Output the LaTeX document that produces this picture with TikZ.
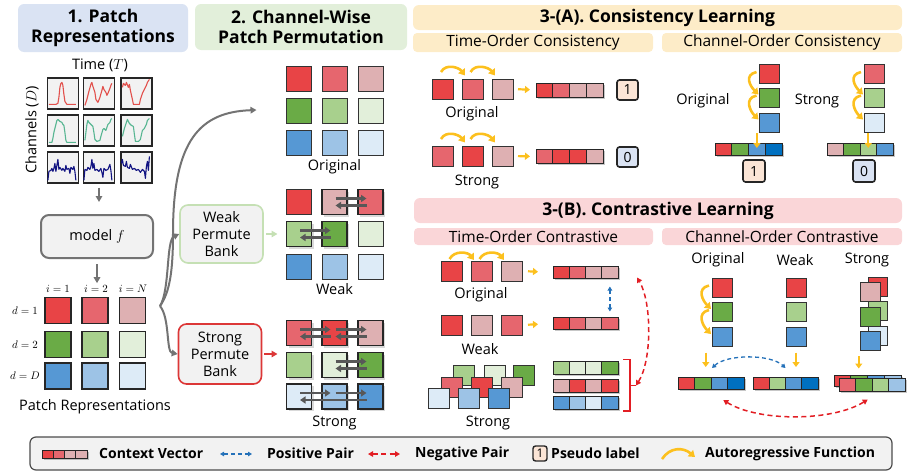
\documentclass[tikz,border=0pt]{standalone}
\usepackage{fontspec}
\setmainfont{Open Sans}
\usepackage{tikz}
\usetikzlibrary{arrows.meta,calc,shadows,positioning}

% patch colours
\definecolor{rA}{RGB}{232,68,70}
\definecolor{rB}{RGB}{230,102,110}
\definecolor{rC}{RGB}{222,176,178}
\definecolor{gA}{RGB}{106,171,70}
\definecolor{gB}{RGB}{168,208,141}
\definecolor{gC}{RGB}{226,239,218}
\definecolor{bA}{RGB}{86,152,212}
\definecolor{bB}{RGB}{157,195,230}
\definecolor{bC}{RGB}{221,235,247}
\definecolor{bD}{RGB}{0,112,192}
% panels and arrows
\definecolor{hdBlue}{RGB}{218,227,243}
\definecolor{hdGreen}{RGB}{226,239,218}
\definecolor{hdYellow}{RGB}{253,236,200}
\definecolor{hdPink}{RGB}{250,214,216}
\definecolor{arYellow}{RGB}{252,192,30}
\definecolor{arGray}{RGB}{115,115,115}
\definecolor{swGray}{RGB}{88,88,88}
\definecolor{posBlue}{RGB}{36,113,185}
\definecolor{negRed}{RGB}{226,30,36}
\definecolor{boxGray}{RGB}{242,242,242}
\definecolor{bankGreen}{RGB}{197,224,180}
\definecolor{bankRed}{RGB}{220,55,55}
\definecolor{lblOne}{RGB}{251,229,214}
\definecolor{lblZero}{RGB}{218,227,243}
\definecolor{tsRed}{RGB}{226,80,76}
\definecolor{tsGreen}{RGB}{88,182,146}
\definecolor{tsBlue}{RGB}{18,20,130}

% context vector: name, left x, centre y, cell width, cell height, colours
\newcommand{\ctxvec}[6]{%
  \fill[black,opacity=0.22] ({#2+1.6},{#3-#5/2+1.6}) rectangle ++({4*#4},#5);
  \foreach \cl [count=\k] in {#6}
    \node[cell,minimum width=#4pt,minimum height=#5pt,fill=\cl]
      (#1-\k) at ({#2+(\k-0.5)*#4},#3) {};
}
% series drawn in a box, local coordinates from its top left corner
\newcommand{\tsline}[3]{%
  \draw[#2,line width=1.1pt,line join=round,shift={(#1.north west)}]
    plot coordinates {#3};
}
% two opposite swap arrows between patches
\newcommand{\swappair}[2]{%
  \draw[swap] ($(#1.center)+(1,-3.5)$) -- ($(#2.center)+(-4,-3.5)$);
  \draw[swap] ($(#2.center)+(-4,3.5)$) -- ($(#1.center)+(1,3.5)$);
}
% autoregressive step over the top of two patches
\newcommand{\arcstep}[3]{%
  \draw[autoreg] ($(#1.north)+(-2,-#3)$) .. controls +(5,-9) and +(-6,-8)
    .. ($(#2.north west)+(3,{-#3/2})$);
}
% autoregressive step down the left side of a column
\newcommand{\chstep}[2]{%
  \draw[autoreg] ($(#1.west)+(-3,-2)$) .. controls +(-13,3) and +(-8,-8)
    .. ($(#2.west)+(-1,-3)$);
}

\begin{document}
\begin{tikzpicture}[x=1pt,y=-1pt,
  header/.style={rectangle,rounded corners=6pt,inner sep=0pt,align=center,
    font=\fontsize{17.5}{20}\selectfont\bfseries},
  subhead/.style={rectangle,rounded corners=4pt,inner sep=0pt,
    font=\fontsize{15.5}{17}\selectfont},
  lbl/.style={font=\fontsize{14.5}{16}\selectfont,inner sep=1pt},
  idx/.style={font=\fontsize{10.5}{12}\selectfont,inner sep=1pt},
  leg/.style={font=\fontsize{14}{16}\selectfont\bfseries,anchor=west,inner sep=0pt},
  tsbox/.style={rectangle,draw=black!85,line width=1.2pt,fill=boxGray,
    minimum size=31pt,inner sep=0pt},
  patch/.style={rectangle,draw=black!80,line width=0.6pt,inner sep=0pt,
    outer sep=0pt,minimum width=25pt,minimum height=25pt},
  repp/.style={line width=1.7pt,draw=black!85,minimum width=26pt,minimum height=26pt},
  moved/.style={line width=1.7pt,draw=black!85,
    drop shadow={shadow xshift=2pt,shadow yshift=-2pt,opacity=0.3}},
  sq/.style={patch,minimum width=21pt,minimum height=20pt},
  cell/.style={rectangle,draw=black!85,line width=0.8pt,inner sep=0pt,outer sep=0pt},
  modelbox/.style={rectangle,rounded corners=8pt,draw=black!55,line width=2pt,
    fill=boxGray,minimum width=112pt,minimum height=43pt,
    font=\fontsize{14.5}{16}\selectfont},
  bank/.style={rectangle,rounded corners=8pt,line width=1.6pt,fill=boxGray,
    minimum width=83pt,minimum height=58pt,align=center,inner sep=0pt,
    font=\fontsize{14.5}{17}\selectfont},
  plabel/.style={rectangle,draw=black!85,line width=1.6pt,rounded corners=2.5pt,
    minimum width=21pt,minimum height=20pt,inner sep=0pt,
    font=\fontsize{14}{14}\selectfont},
  flow/.style={draw=arGray,line width=2pt,-{Triangle[length=6pt,width=6.5pt]}},
  swap/.style={draw=swGray,line width=2.2pt,-{Triangle[length=5.5pt,width=7pt]}},
  autoreg/.style={draw=arYellow,line width=2.6pt,-{Triangle[length=6pt,width=8pt]}},
  feed/.style={draw=arYellow,line width=2.2pt,-{Triangle[length=5pt,width=7pt]}},
  pospair/.style={draw=posBlue,line width=1.3pt,dash pattern=on 4pt off 3pt,
    {Triangle[length=4pt,width=4.5pt]}-{Triangle[length=4pt,width=4.5pt]}},
  negpair/.style={draw=negRed,line width=1.5pt,dash pattern=on 5pt off 3.5pt,
    {Triangle[length=5pt,width=5.5pt]}-{Triangle[length=5pt,width=5.5pt]}}
]
  \useasboundingbox (0,0) rectangle (912,474);

  % ---------------- 1. Patch representations ----------------
  \node[header,fill=hdBlue,minimum width=170pt,minimum height=48pt] (hd1)
    at (103,28) {1. Patch\\Representations};
  \node[lbl] (timelab) at (100,65) {Time ($T$)};
  \node[lbl,rotate=90] (chanlab) at (32,130) {Channels ($D$)};
  \foreach \r/\y in {1/93.5,2/130.5,3/167.5}
    \foreach \cc/\x in {1/63,2/99,3/136.5}
      \node[tsbox] (ts-\r\cc) at (\x,\y) {};
  \tsline{ts-11}{tsRed}{(2,27) (9,27) (11,26) (12,20) (13,10) (14,6) (15,5)
    (16,8) (17,17) (18,24) (20,27) (29,27)}
  \tsline{ts-12}{tsRed}{(2,28) (4,22) (6,14) (8,7) (9,5) (10,9) (12,15)
    (13,22) (15,25) (17,20) (19,13) (20,9) (21,12) (23,15) (24,18) (25,16)
    (27,11) (28,8) (29,6)}
  \tsline{ts-13}{tsRed}{(2,10) (3,6) (5,8) (6,5) (8,10) (9,7) (10,13) (12,22)
    (13,27) (19,27) (20,22) (22,16) (24,12) (26,8) (27,5) (29,2)}
  \tsline{ts-21}{tsGreen}{(2,28) (5,28) (6,24) (7,18) (9,10) (10,6) (11,5)
    (13,7) (15,8) (16,10) (17,11) (18,18) (19,26) (20,28) (29,28)}
  \tsline{ts-22}{tsGreen}{(2,26) (3,18) (4,10) (5,6) (6,8) (8,10) (10,12)
    (11,18) (12,25) (14,27) (17,26) (18,22) (20,15) (21,14) (23,16) (25,10)
    (27,8) (28,5) (29,4)}
  \tsline{ts-23}{tsGreen}{(2,22) (4,14) (6,8) (7,5) (9,9) (11,11) (13,12)
    (14,20) (15,27) (18,27) (20,25) (22,16) (24,14) (26,10) (27,6) (29,4)}
  \tsline{ts-31}{tsBlue}{(1,29) (2,20) (4,19) (5,17) (6,20) (7,17) (8,12)
    (9,20) (10,14) (11,8) (12,18) (13,16) (15,19) (16,17) (18,20) (19,14)
    (20,18) (22,17) (23,22) (24,16) (26,18) (27,15) (28,20) (29,29)}
  \tsline{ts-32}{tsBlue}{(1,29) (2,18) (4,19) (5,16) (7,18) (8,15) (9,8)
    (10,17) (11,12) (12,19) (14,18) (16,20) (18,17) (19,21) (20,26) (21,17)
    (23,19) (25,18) (27,13) (28,19) (29,29)}
  \tsline{ts-33}{tsBlue}{(1,12) (2,8) (3,14) (5,15) (6,10) (7,16) (9,17)
    (10,13) (12,18) (14,17) (16,19) (18,18) (20,21) (22,18) (24,20) (25,27)
    (26,15) (27,10) (28,19) (29,5)}

  \node[modelbox] (model) at (97,236.5) {model $f$};
  \draw[flow,shorten <=4pt,shorten >=12pt] (ts-32.south) -- (ts-32.south |- model.north);

  \foreach \cc/\x/\t in {1/58/1,2/96/2,3/133/N}
    \node[idx] (idx-\cc) at (\x,289) {$i=\t$};
  \draw[flow,shorten <=5pt,shorten >=1pt] (model.south) -- (model.south |- idx-2.north);

  \foreach \r/\y/\h/\t in {1/310.5/r/1,2/344.5/g/2,3/376/b/D} {
    \node[idx] (dlab-\r) at (25,\y) {$d=\t$};
    \foreach \cc/\x/\s in {1/58/A,2/95/B,3/132.5/C}
      \node[patch,repp,fill=\h\s] (rep-\r\cc) at (\x,\y) {};
  }
  \node[lbl] (replab) at (95,407) {Patch Representations};

  % ---------------- 2. Channel-wise patch permutation ----------------
  \node[header,fill=hdGreen,minimum width=212pt,minimum height=46pt] (hd2)
    at (301,27) {2. Channel-Wise\\Patch Permutation};

  % original grid
  \foreach \r/\y/\h in {1/79/r,2/111/g,3/143/b}
    \foreach \cc/\x/\s in {1/299/A,2/334.5/B,3/370.5/C}
      \node[patch,fill=\h\s] (ori-\r\cc) at (\x,\y) {};
  \node[lbl] (orilab) at (334.5,167) {Original};

  % weak grid
  \node[patch,fill=rA] (w11) at (299,202) {};
  \node[patch,moved,fill=rC] (w12) at (334.5,202) {};
  \node[patch,moved,fill=rB] (w13) at (370.5,202) {};
  \node[patch,moved,fill=gB] (w21) at (299,234) {};
  \node[patch,moved,fill=gA] (w22) at (334.5,234) {};
  \node[patch,fill=gC] (w23) at (370.5,234) {};
  \node[patch,fill=bA] (w31) at (299,266.5) {};
  \node[patch,fill=bB] (w32) at (334.5,266.5) {};
  \node[patch,fill=bC] (w33) at (370.5,266.5) {};
  \swappair{w12}{w13}
  \swappair{w21}{w22}
  \node[lbl] (weaklab) at (334.5,289) {Weak};

  % strong grid
  \node[patch,moved,fill=rB] (s11) at (299,333) {};
  \node[patch,moved,fill=rA] (s12) at (334.5,333) {};
  \node[patch,moved,fill=rC] (s13) at (370.5,333) {};
  \node[patch,moved,fill=gB] (s21) at (299,365) {};
  \node[patch,moved,fill=gC] (s22) at (334.5,365) {};
  \node[patch,moved,fill=gA] (s23) at (370.5,365) {};
  \node[patch,moved,fill=bC] (s31) at (299,396.5) {};
  \node[patch,moved,fill=bB] (s32) at (334.5,396.5) {};
  \node[patch,moved,fill=bA] (s33) at (370.5,396.5) {};
  \swappair{s11}{s12}
  \swappair{s12}{s13}
  \swappair{s22}{s23}
  \draw[swap] ($(s31.center)+(1,-3.5)$) -- ($(s32.center)+(-4,-3.5)$);
  \draw[swap] ($(s32.center)+(1,-3.5)$) -- ($(s33.center)+(-4,-3.5)$);
  \draw[swap] ($(s33.center)+(-4,3.5)$) -- ($(s31.center)+(1,3.5)$);
  \node[lbl] (stronglab) at (334.5,423) {Strong};

  % permute banks
  \node[bank,draw=bankGreen] (weakbank) at (221.5,234) {Weak\\Permute\\Bank};
  \node[bank,draw=bankRed,minimum height=60pt] (strongbank) at (220,354)
    {Strong\\Permute\\Bank};
  \draw[flow,draw=bankGreen,shorten <=2pt,shorten >=9pt]
    (weakbank.east) -- (weakbank.east -| w21.west);
  \draw[flow,draw=bankRed,shorten <=2pt,shorten >=9pt]
    (strongbank.east) -- (strongbank.east -| s21.west);

  % branches out of the representations
  \coordinate (split) at (160,306);
  \coordinate (toOri) at ($(ori-21.west)+(-30,-1)$);
  \draw[flow] (split) .. controls (170,292) and (173,270) .. (173,233)
    .. controls (173,140) and (200,112) .. (toOri);
  \draw[flow] (split) .. controls (170,290) and (166,240) .. (weakbank.west);
  \draw[flow] (split) .. controls (170,318) and (166,352) .. (strongbank.west);

  % ---------------- 3-(A). Consistency learning ----------------
  \node[header,fill=hdYellow,minimum width=489pt,minimum height=25pt] (hd3a)
    at (657.5,17.5) {3-(A). Consistency Learning};
  \node[subhead,fill=hdYellow,minimum width=240pt,minimum height=19pt] (sub3a1)
    at (533,42.5) {Time-Order Consistency};
  \node[subhead,fill=hdYellow,minimum width=240pt,minimum height=19pt] (sub3a2)
    at (782,42.5) {Channel-Order Consistency};

  % time order, original
  \foreach \k/\x/\cl in {1/443/rA,2/472.5/rB,3/502.5/rC}
    \node[sq,fill=\cl] (tcO\k) at (\x,89) {};
  \arcstep{tcO1}{tcO2}{7}
  \arcstep{tcO2}{tcO3}{7}
  \ctxvec{tcOv}{536}{90}{16.75}{14}{rA,rB,rC,rC}
  \draw[feed,shorten <=5pt,shorten >=6pt] (tcO3.east) -- (tcOv-1.west);
  \node[plabel,fill=lblOne] (tcOl) at (627.5,90) {1};
  \node[lbl] (tcOlab) at (472,114) {Original};

  % time order, strong
  \foreach \k/\x/\cl in {1/443/rB,2/472.5/rA,3/502.5/rC}
    \node[sq,fill=\cl] (tcS\k) at (\x,156) {};
  \arcstep{tcS1}{tcS2}{7}
  \arcstep{tcS2}{tcS3}{7}
  \ctxvec{tcSv}{536}{156.5}{16.75}{14}{rB,rA,rA,rC}
  \draw[feed,shorten <=5pt,shorten >=6pt] (tcS3.east) -- (tcSv-1.west);
  \node[plabel,fill=lblZero] (tcSl) at (627.5,157) {0};
  \node[lbl] (tcSlab) at (477,182) {Strong};

  % channel order, original
  \foreach \k/\y/\cl in {1/74/rA,2/97.5/gA,3/122.5/bA}
    \node[sq,minimum width=20pt,minimum height=19pt,fill=\cl] (ccO\k) at (769.5,\y) {};
  \chstep{ccO1}{ccO2}
  \chstep{ccO2}{ccO3}
  \ctxvec{ccOv}{715}{149}{16.75}{12}{rA,gA,bA,bD}
  \draw[feed,shorten <=1pt,shorten >=1pt] (ccOv-3 |- ccO3.south) -- (ccOv-3.center);
  \node[plabel,fill=lblOne,minimum width=22pt,minimum height=22pt] (ccOl) at (754,171) {1};
  \node[lbl] (ccOlab) at (703,101) {Original};

  % channel order, strong
  \foreach \k/\y/\cl in {1/74/rB,2/97.5/gB,3/122.5/bC}
    \node[sq,minimum width=20pt,minimum height=19pt,fill=\cl] (ccS\k) at (874,\y) {};
  \chstep{ccS1}{ccS2}
  \chstep{ccS2}{ccS3}
  \ctxvec{ccSv}{827}{149}{16.5}{12}{rC,gA,gB,bA}
  \draw[feed,shorten <=1pt,shorten >=1pt] (ccSv-3 |- ccS3.south) -- (ccSv-3.center);
  \node[plabel,fill=lblZero,minimum width=22pt,minimum height=22pt] (ccSl) at (864,171) {0};
  \node[lbl] (ccSlab) at (817,101) {Strong};

  % ---------------- 3-(B). Contrastive learning ----------------
  \node[header,fill=hdPink,minimum width=488pt,minimum height=25pt] (hd3b)
    at (658,210.5) {3-(B). Contrastive Learning};
  \node[subhead,fill=hdPink,minimum width=239pt,minimum height=17pt] (sub3b1)
    at (533.5,236.5) {Time-Order Contrastive};
  \node[subhead,fill=hdPink,minimum width=240pt,minimum height=17pt] (sub3b2)
    at (782,236.5) {Channel-Order Contrastive};

  % time order, original
  \foreach \k/\x/\cl in {1/451.5/rA,2/481.5/rB,3/511.5/rC}
    \node[sq,fill=\cl] (toO\k) at (\x,271) {};
  \arcstep{toO1}{toO2}{2}
  \arcstep{toO2}{toO3}{2}
  \ctxvec{toOv}{553}{272.5}{16.25}{12}{rA,rB,rC,rC}
  \draw[feed,shorten <=6pt,shorten >=15pt] (toO3.east) -- (toOv-1.west);
  \node[lbl] (toOlab) at (481,295) {Original};

  % time order, weak
  \foreach \k/\x/\cl in {1/451.5/rA,2/481.5/rC,3/511.5/rB}
    \node[sq,fill=\cl] (toW\k) at (\x,325) {};
  \ctxvec{toWv}{553}{323.5}{16.25}{12}{rA,rB,rC,rB}
  \draw[feed,shorten <=6pt,shorten >=15pt] (toW3.east) -- (toWv-1.west);
  \node[lbl] (toWlab) at (480,349) {Weak};
  \draw[pospair,shorten <=8pt,shorten >=6pt] (toOv-4.south) -- (toWv-4.north);

  % time order, strong
  \node[sq,fill=gB] (toG1) at (464,375) {};
  \node[sq,fill=gC] (toG2) at (494.5,375) {};
  \node[sq,fill=gA] (toG3) at (524,375) {};
  \node[sq,fill=rB] (toR1) at (451.5,387) {};
  \node[sq,fill=rA] (toR2) at (481.5,387) {};
  \node[sq,fill=rC] (toR3) at (511.5,387) {};
  \node[sq,fill=bC] (toB1) at (438.5,398) {};
  \node[sq,fill=bB] (toB2) at (468.5,398) {};
  \node[sq,fill=bA] (toB3) at (498.5,398) {};
  \node[lbl] (toSlab) at (488,423) {Strong};
  \ctxvec{toGv}{553}{368}{16.25}{13}{gB,gC,gC,gA}
  \ctxvec{toRv}{553}{385.5}{16.25}{13}{rC,rA,rC,rA}
  \ctxvec{toBv}{553}{402.5}{16.25}{13}{bA,bB,bC,bA}
  \draw[negRed,line width=1.5pt] ($(toGv-4.north east)+(5,-2)$) -- ++(7,0)
    |- ($(toBv-4.south east)+(5,2)$);
  \draw[negRed,line width=1.5pt] ($(toRv-4.east)+(12,0)$) -- ++(6,0) coordinate (brk);
  \coordinate (toOtip) at ($(toOv-4.east)+(19,5)$);
  \draw[negpair] (brk) .. controls +(16,-25) and +(15,25) .. (toOtip);

  % channel order, columns
  \node[lbl] (coOlab) at (718,260) {Original};
  \node[lbl] (coWlab) at (795,260) {Weak};
  \node[lbl] (coSlab) at (867,260) {Strong};
  \foreach \k/\y/\cl in {1/287.5/rA,2/312/gA,3/337/bA}
    \node[sq,minimum width=20pt,minimum height=19pt,fill=\cl] (coO\k) at (722,\y) {};
  \chstep{coO1}{coO2}
  \chstep{coO2}{coO3}
  \foreach \k/\y/\cl in {1/287.5/rA,2/312/gB,3/337/bA}
    \node[sq,minimum width=20pt,minimum height=19pt,fill=\cl] (coW\k) at (796,\y) {};
  \foreach \k/\y/\cl in {1/286.5/rA,2/311/gB,3/335.5/bC}
    \node[sq,minimum width=19pt,minimum height=19pt,fill=\cl] (coSb\k) at (878,\y) {};
  \foreach \k/\y/\cl in {1/291.5/rC,2/317/gA,3/340.5/bA}
    \node[sq,minimum width=20pt,minimum height=19pt,fill=\cl] (coSf\k) at (870,\y) {};

  % channel order, context vectors
  \ctxvec{coOv}{678}{383}{16.5}{12}{rA,gA,bA,bD}
  \ctxvec{coWv}{753}{383}{16.25}{12}{rA,gB,bA,bD}
  \ctxvec{coSbv}{834}{380.5}{16.75}{11}{rA,gA,bA,bB}
  \ctxvec{coSfv}{839}{385}{16.5}{13}{rB,gA,gB,bB}
  \draw[feed,shorten <=6pt,shorten >=10pt] ([xshift=3pt]coOv-2.north |- coO3.south)
    -- ([xshift=3pt]coOv-2.north);
  \draw[feed,shorten <=6pt,shorten >=10pt] (coW3.south) -- (coW3.south |- coWv-3.north);
  \draw[feed,shorten <=6pt,shorten >=10pt] ([xshift=-5pt]coSfv-2.north |- coSf3.south)
    -- ([xshift=-5pt]coSfv-2.north);
  \coordinate (cpA) at ($(coOv-3.north west)+(1,-9)$);
  \coordinate (cpB) at ($(coWv-3.north west)+(0,-9)$);
  \draw[pospair] (cpA) .. controls +(15,-14) and +(-15,-14) .. (cpB);
  \coordinate (cnA) at ($(coOv-3.south)+(4,11)$);
  \coordinate (cnB) at ($(coSfv-2.south)+(4,8)$);
  \draw[negpair] (cnA) .. controls +(35,22) and +(-35,22) .. (cnB);

  % ---------------- legend ----------------
  \node[rectangle,rounded corners=6pt,draw=black!70,line width=1.2pt,fill=boxGray,
    minimum width=862pt,minimum height=33pt] (legend) at (461,453.5) {};
  \ctxvec{lgv}{42}{454}{11.25}{8}{rA,rB,rC,rC}
  \node[leg] (lgctx) at (99,453.5) {Context Vector};
  \coordinate (lgp1) at (220,454);
  \coordinate (lgp2) at (252,454);
  \draw[pospair] (lgp1) -- (lgp2);
  \node[leg] (lgpos) at (267,453.5) {Positive Pair};
  \coordinate (lgn1) at (368,454);
  \coordinate (lgn2) at (400,454);
  \draw[negpair] (lgn1) -- (lgn2);
  \node[leg] (lgneg) at (415,453.5) {Negative Pair};
  \node[plabel,fill=lblOne,minimum width=14pt,minimum height=15pt,line width=1.4pt,
    font=\fontsize{12}{12}\selectfont] (lglbl) at (540,453.5) {1};
  \node[leg] (lgpseudo) at (551,453.5) {Pseudo label};
  \coordinate (lga1) at (662,459);
  \coordinate (lga2) at (695,457);
  \draw[autoreg] (lga1) .. controls +(8,-12) and +(-12,-10) .. (lga2);
  \node[leg] (lgauto) at (705,453.5) {Autoregressive Function};
\end{tikzpicture}
\end{document}
